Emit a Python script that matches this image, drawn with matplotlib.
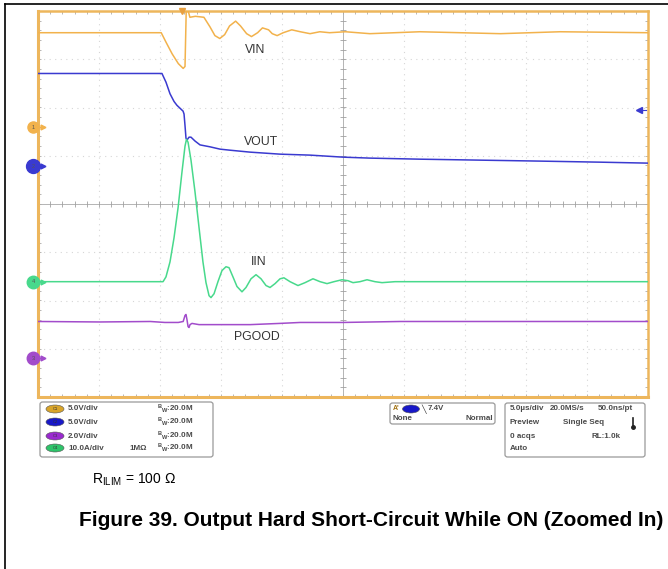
import numpy as np
import matplotlib.pyplot as plt
from matplotlib.patches import FancyBboxPatch, Ellipse
from matplotlib.lines import Line2D

plt.rcParams['font.family'] = ['Liberation Sans', 'DejaVu Sans']
plt.rcParams['mathtext.fontset'] = 'custom'
plt.rcParams['mathtext.rm'] = 'Liberation Sans'
plt.rcParams['mathtext.it'] = 'Liberation Sans:italic'

W, H = 668, 569

# ------------------------------------------------------------------
# Scope settings
# ------------------------------------------------------------------
US_PER_DIV = 5.0
ch_names = ['VIN', 'VOUT', 'PGOOD', 'IIN']
ch_scale = {'VIN': 5.0, 'VOUT': 5.0, 'PGOOD': 2.0, 'IIN': 10.0}     # units/div
ch_ground = {'VIN': 1.59, 'VOUT': 0.785, 'PGOOD': -3.20, 'IIN': -1.61}  # div
ch_color = {'VIN': '#F2B24C', 'VOUT': '#3A3AD0', 'PGOOD': '#A24CCB', 'IIN': '#48D98C'}
trig_t = 11.8          # us
trig_level_div = 1.94

# ------------------------------------------------------------------
# Captured waveforms (time in us)
# ------------------------------------------------------------------
vin_t = [0, 10.1, 10.5, 11.0, 11.5, 11.9, 12.05, 12.15, 12.3, 12.45, 12.9, 13.6,
         14.1, 14.5, 14.9, 15.3, 15.7, 16.2, 16.6, 17.1, 17.5, 18.0, 18.4, 18.9,
         19.2, 19.6, 20.1, 20.8, 21.5, 22.3, 23.1, 23.9, 25.2, 27.2, 31.3, 37.9,
         42.8, 50.0]
vin_v = [9.8, 9.8, 8.8, 7.6, 6.6, 6.1, 6.3, 12.1, 12.1, 11.4, 11.5, 11.4,
         10.4, 9.5, 9.2, 9.6, 10.5, 11.0, 10.5, 9.7, 9.4, 9.8, 10.3, 10.1,
         9.7, 9.5, 9.8, 10.1, 9.9, 9.7, 9.9, 9.8, 9.9, 9.7, 9.9, 9.7,
         9.9, 9.8]

vout_t = [0, 10.16, 10.49, 10.82, 11.15, 11.39, 11.64, 11.89, 11.97, 12.05, 12.13,
          12.21, 12.38, 12.54, 12.87, 13.28, 14.10, 14.92, 15.74, 17.38, 19.84,
          22.30, 25.0, 27.21, 31.31, 36.23, 41.15, 46.07, 50.0]
vout_v = [9.6, 9.6, 8.7, 7.5, 6.7, 6.3, 6.0, 5.7, 5.4, 4.2, 2.9,
          2.7, 3.0, 3.0, 2.6, 2.2, 2.0, 1.76, 1.65, 1.45, 1.24,
          1.14, 0.93, 0.83, 0.72, 0.62, 0.52, 0.41, 0.31]

iin_t = [0, 10.25, 10.49, 10.82, 11.15, 11.48, 11.80, 12.05, 12.17, 12.30, 12.54,
         12.87, 13.20, 13.52, 13.77, 14.02, 14.18, 14.43, 14.75, 15.08, 15.41,
         15.66, 15.98, 16.31, 16.72, 17.05, 17.46, 17.87, 18.28, 18.69, 19.02,
         19.43, 19.84, 20.16, 20.66, 21.31, 21.89, 22.54, 23.12, 23.69, 24.26,
         24.92, 25.41, 25.82, 26.39, 26.97, 27.62, 28.20, 29.26, 50.0]
iin_a = [0, 0, 1.0, 4.1, 9.1, 15.3, 22.7, 28.1, 29.5, 28.9, 25.2,
         18.6, 11.2, 4.1, -0.2, -2.9, -3.3, -2.5, 0, 2.3, 3.1,
         2.9, 1.0, -1.0, -2.1, -1.2, 0.6, 1.45, 0.6, -0.8, -1.2,
         -0.4, 0.6, 0.8, 0, -0.8, -0.2, 0.6, 0, -0.4, 0,
         0.4, 0.2, -0.2, 0, 0.4, 0, -0.2, 0, 0]

pgood_t = [0, 5.1, 9.2, 10.4, 11.5, 11.9, 12.05, 12.13, 12.21, 12.30, 12.38,
           12.46, 12.62, 13.2, 14.9, 17.4, 19.8, 21.5, 25.0, 29.7, 37.9, 50.0]
pgood_v = [1.53, 1.51, 1.53, 1.49, 1.49, 1.53, 1.78, 1.82, 1.61, 1.32, 1.28,
           1.40, 1.45, 1.40, 1.40, 1.40, 1.45, 1.49, 1.49, 1.53, 1.53, 1.53]

traces = {
    'VIN': (vin_t, vin_v),
    'VOUT': (vout_t, vout_v),
    'PGOOD': (pgood_t, pgood_v),
    'IIN': (iin_t, iin_a),
}

# label anchor: (time us, div)
label_pos = {'VIN': (17.8, 3.20), 'VOUT': (18.3, 1.28), 'IIN': (18.1, -1.20),
             'PGOOD': (17.9, -2.75)}


def fx(x):
    return x / W


def fy(y):
    return 1 - y / H


fig = plt.figure(figsize=(W / 100, H / 100), dpi=100)

# outer frame of the figure box
fig.add_artist(Line2D([fx(5), fx(5)], [fy(4), 0], color='black', lw=1.2))
fig.add_artist(Line2D([fx(5), 1], [fy(4), fy(4)], color='black', lw=1.2))

# ------------------------------------------------------------------
# Scope screen
# ------------------------------------------------------------------
ax = fig.add_axes([fx(38), fy(397), (648 - 38) / W, (397 - 11) / H])
ax.set_xlim(0, 10)
ax.set_ylim(-4, 4)
for s in ax.spines.values():
    s.set_color('#EDB65C')
    s.set_linewidth(1.8)
ax.spines['left'].set_linewidth(2.2)
ax.spines['bottom'].set_linewidth(2.2)

ax.set_xticks(np.arange(0, 10.01, 0.2))
ax.set_yticks(np.arange(-4, 4.01, 0.2))
ax.tick_params(direction='in', length=2.5, width=0.6, colors='#ABABAB',
               top=True, right=True, labelbottom=False, labelleft=False)

grid_kw = dict(color='#D6D6D6', lw=0.8, ls=(0, (1, 4)), zorder=0)
for gx in range(1, 10):
    if gx != 5:
        ax.axvline(gx, **grid_kw)
for gy in range(-3, 4):
    if gy != 0:
        ax.axhline(gy, **grid_kw)
ax.axhline(0, color='#B4B4B4', lw=0.7, zorder=0)
ax.axvline(5, color='#B4B4B4', lw=0.7, zorder=0)
minor = np.arange(0, 10.01, 0.2)
ax.plot(minor, np.zeros_like(minor), ls='none', marker='|', ms=4,
        mew=0.6, color='#A0A0A0', zorder=0)
minor_y = np.arange(-4, 4.01, 0.2)
ax.plot(np.full_like(minor_y, 5.0), minor_y, ls='none', marker='_', ms=4,
        mew=0.6, color='#A0A0A0', zorder=0)

for name in ch_names:
    t, v = traces[name]
    x = np.array(t) / US_PER_DIV
    y = ch_ground[name] + np.array(v) / ch_scale[name]
    ax.plot(x, y, color=ch_color[name], lw=1.1, zorder=3)

for name, (lt, ly) in label_pos.items():
    ax.text(lt / US_PER_DIV, ly, name, fontsize=8.8, color='#333333',
            ha='center', va='center', zorder=4)

# ground reference markers on the left edge
marker_tags = {'VIN': '1', 'VOUT': '2', 'PGOOD': '3', 'IIN': '4'}
marker_size = {'VIN': 8, 'VOUT': 10, 'PGOOD': 9, 'IIN': 9}
for name in ch_names:
    g = ch_ground[name]
    ax.plot([-0.08], [g], marker='o', ms=marker_size[name], color=ch_color[name],
            clip_on=False, zorder=5)
    ax.plot([0.08], [g], marker='>', ms=3.5, color=ch_color[name],
            clip_on=False, zorder=5)
    ax.plot([-0.02, 0.08], [g, g], color=ch_color[name], lw=1.0,
            clip_on=False, zorder=5)
    ax.text(-0.08, g, marker_tags[name], fontsize=4, color='#555555',
            ha='center', va='center', zorder=6, clip_on=False)

# trigger position and level
ax.plot([trig_t / US_PER_DIV], [4.0], marker='v', ms=5, color='#E8A040',
        clip_on=False, zorder=5)
ax.plot([9.85], [trig_level_div], marker='<', ms=4, color=ch_color['VOUT'],
        clip_on=False, zorder=5)
ax.plot([9.85, 9.97], [trig_level_div, trig_level_div], color=ch_color['VOUT'],
        lw=0.8, zorder=5)

# ------------------------------------------------------------------
# Status bar
# ------------------------------------------------------------------
def box(x0, y0, x1, y1):
    p = FancyBboxPatch((fx(x0), fy(y1)), fx(x1) - fx(x0), fy(y0) - fy(y1),
                       boxstyle='round,pad=0,rounding_size=0.004',
                       transform=fig.transFigure, facecolor='white',
                       edgecolor='#9A9A9A', lw=0.9)
    fig.add_artist(p)


box(40, 402, 213, 457)
box(390, 403, 495, 424)
box(505, 403, 645, 457)

st_kw = dict(fontsize=5.8, color='#4A4A4A', fontweight='bold', va='center')

ch_rows = ['VIN', 'VOUT', 'PGOOD', 'IIN']
ch_tags = ['C1', 'C2', 'C3', 'C4']
pill_color = {'VIN': '#D9A52A', 'VOUT': '#1818C8', 'PGOOD': '#9A2ACF', 'IIN': '#2EC46A'}
row_y = [409, 422, 436, 448]
for name, tag, ry in zip(ch_rows, ch_tags, row_y):
    e = Ellipse((fx(55), fy(ry)), fx(18), 8 / H, transform=fig.transFigure,
                facecolor=pill_color[name], edgecolor='#555555', lw=0.4)
    fig.add_artist(e)
    fig.text(fx(55), fy(ry), tag, fontsize=3, color='#333333',
             ha='center', va='center')
    per_div = 'A/div' if name == 'IIN' else 'V/div'
    fig.text(fx(68), fy(ry), f'{ch_scale[name]:.1f}{per_div}', **st_kw)
    fig.text(fx(157), fy(ry), r'$\mathregular{^B{}_W}$:20.0M', **st_kw)
fig.text(fx(129), fy(448), '1M\u03a9', **st_kw)

# trigger readout
fig.text(fx(393), fy(409), "A'", fontsize=5, color='#A07010',
         fontweight='bold', va='center')
fig.add_artist(Ellipse((fx(411), fy(409)), fx(17), 8 / H,
                       transform=fig.transFigure, facecolor='#1818C8',
                       edgecolor='#555555', lw=0.4))
fig.text(fx(421), fy(409), '\u2572', fontsize=5.5, color='#333333', va='center')
fig.text(fx(428), fy(409), '7.4V', **st_kw)
fig.text(fx(393), fy(419), 'None', **st_kw)
fig.text(fx(466), fy(419), 'Normal', **st_kw)

# acquisition readout
fig.text(fx(510), fy(409), '5.0\u00b5s/div', **st_kw)
fig.text(fx(550), fy(409), '20.0MS/s', **st_kw)
fig.text(fx(598), fy(409), '50.0ns/pt', **st_kw)
fig.text(fx(510), fy(422), 'Preview', **st_kw)
fig.text(fx(563), fy(422), 'Single Seq', **st_kw)
fig.text(fx(510), fy(436), '0 acqs', **st_kw)
fig.text(fx(592), fy(436), 'RL:1.0k', **st_kw)
fig.text(fx(510), fy(448), 'Auto', **st_kw)
fig.add_artist(Line2D([fx(633), fx(633)], [fy(418), fy(427)], color='#222222', lw=1.2))
fig.add_artist(Line2D([fx(633)], [fy(427)], marker='o', ms=2.5, color='#222222'))

# ------------------------------------------------------------------
# Captions
# ------------------------------------------------------------------
fig.text(fx(92), fy(480), r'R$_{\mathregular{ILIM}}$ = 100 Ω', fontsize=10,
         color='black', va='center')
fig.text(fx(79), fy(521), 'Figure 39. Output Hard Short-Circuit While ON (Zoomed In)',
         fontsize=15, fontweight='bold', color='black', va='center')

fig.savefig('out.png', dpi=100)
